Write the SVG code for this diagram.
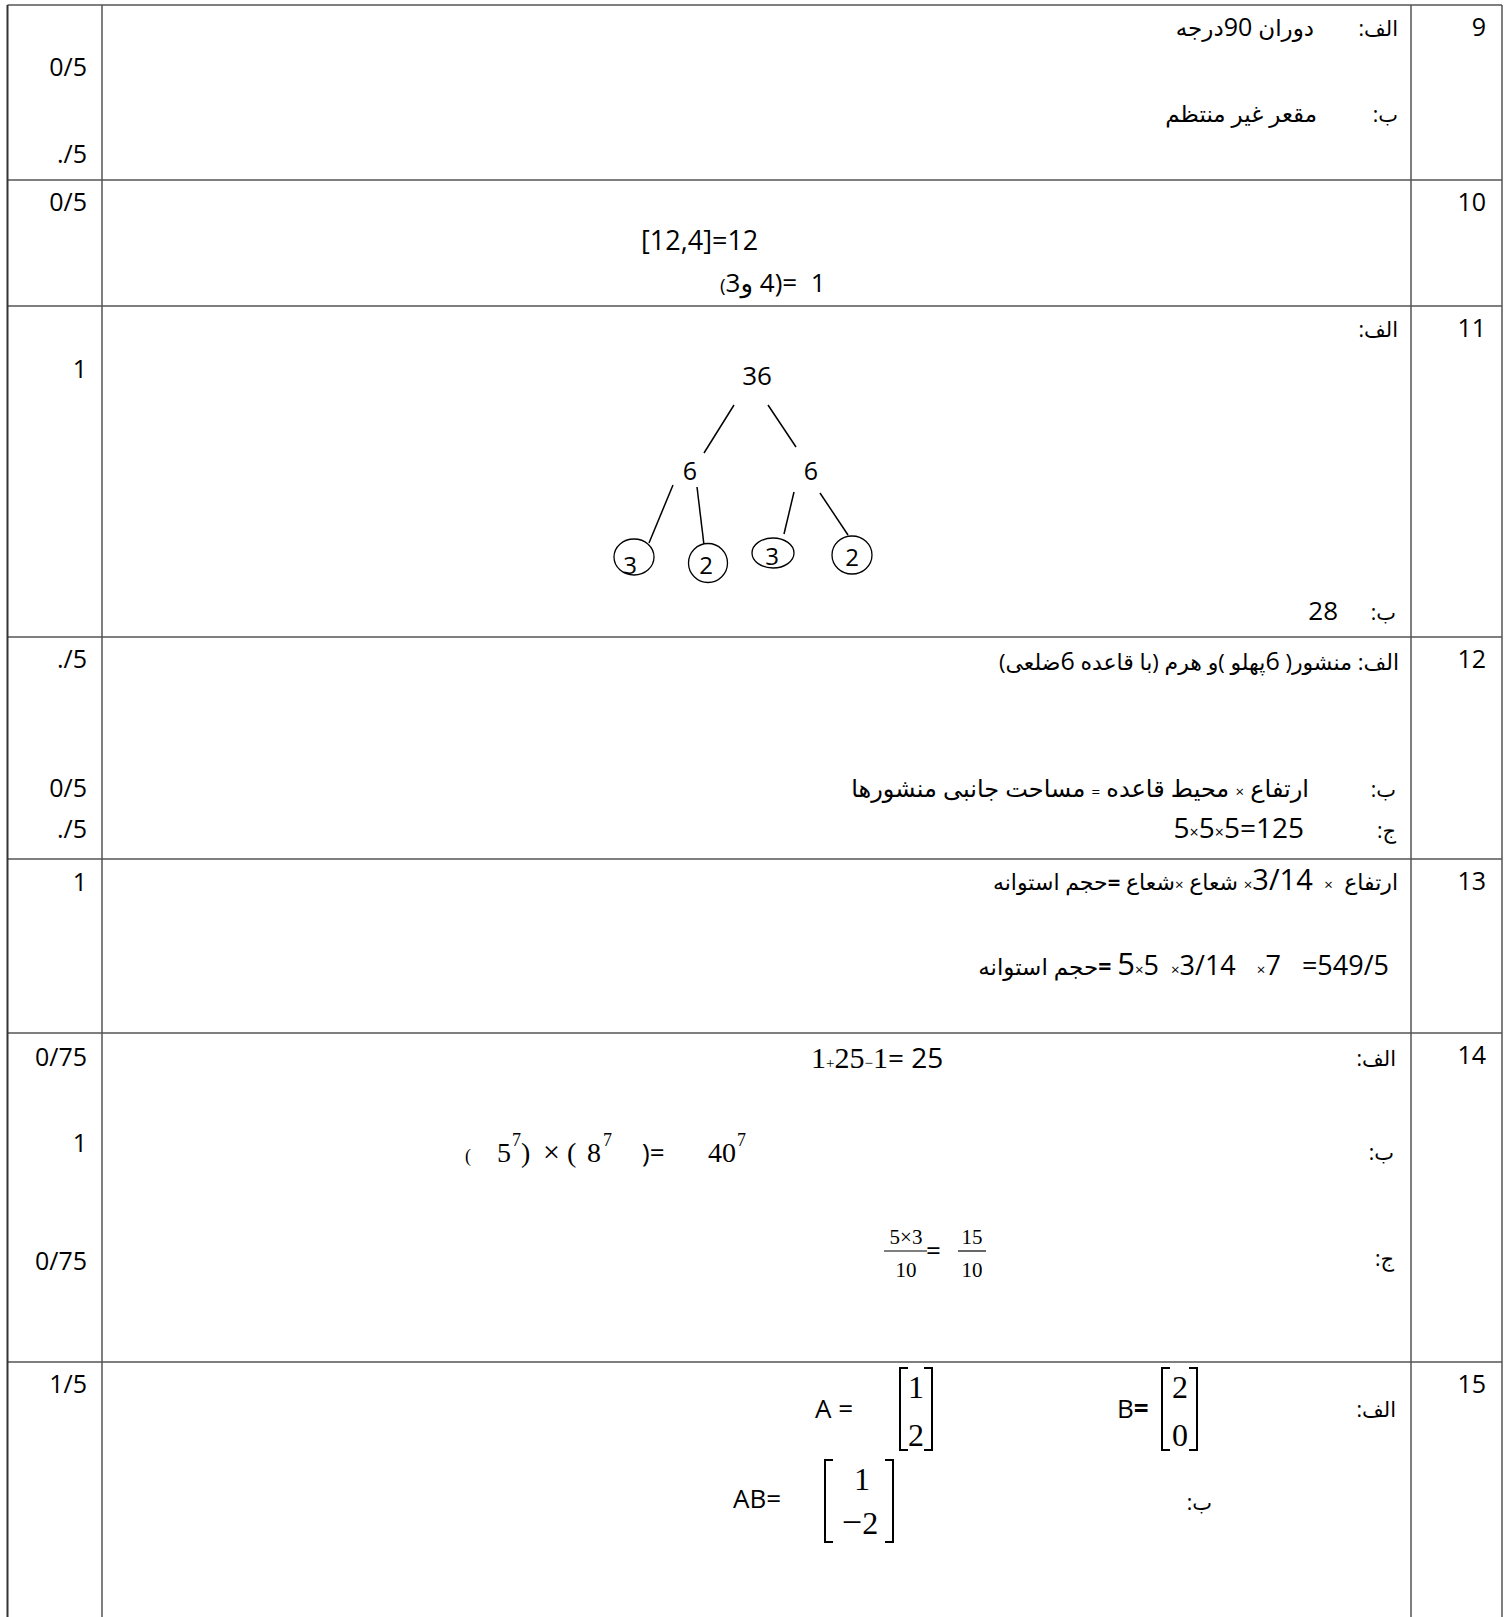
<svg xmlns="http://www.w3.org/2000/svg" width="1509" height="1617" viewBox="0 0 1509 1617">
<style>
text { font-family: "Open Sans", "DejaVu Sans", sans-serif; fill: #000; }
.num { font-size: 25px; text-anchor: end; }
.ar { font-size: 21px; }
.m { font-family: "Liberation Serif", "DejaVu Serif", serif; }
.grid { stroke: #555; stroke-width: 1.5; fill: none; }
.edge { stroke: #000; stroke-width: 1.5; fill: none; }
.node { fill: #fff; stroke: #000; stroke-width: 1.3; }
.br { stroke: #000; stroke-width: 2; fill: none; }
.sx { font-size: 15px; }
</style>
<rect width="1509" height="1617" fill="#fff"/>
<g id="grid">
  <line class="grid" x1="7.5" y1="5" x2="1502" y2="5"/>
  <line class="grid" x1="7.5" y1="180" x2="1502" y2="180"/>
  <line class="grid" x1="7.5" y1="306" x2="1502" y2="306"/>
  <line class="grid" x1="7.5" y1="637" x2="1502" y2="637"/>
  <line class="grid" x1="7.5" y1="859" x2="1502" y2="859"/>
  <line class="grid" x1="7.5" y1="1033" x2="1502" y2="1033"/>
  <line class="grid" x1="7.5" y1="1362" x2="1502" y2="1362"/>
  <line class="grid" x1="7.5" y1="5" x2="7.5" y2="1617" style="stroke:#333;stroke-width:2"/>
  <line class="grid" x1="102" y1="5" x2="102" y2="1617"/>
  <line class="grid" x1="1411" y1="5" x2="1411" y2="1617"/>
  <line class="grid" x1="1502" y1="5" x2="1502" y2="1617"/>
</g>
<g id="row-numbers">
  <text class="num" x="1486" y="36">9</text>
  <text class="num" x="1486" y="211">10</text>
  <text class="num" x="1486" y="337">11</text>
  <text class="num" x="1486" y="668">12</text>
  <text class="num" x="1486" y="890">13</text>
  <text class="num" x="1486" y="1064">14</text>
  <text class="num" x="1486" y="1393">15</text>
</g>
<g id="scores">
  <text class="num" x="87" y="76">0/5</text>
  <text class="num" x="87" y="163">./5</text>
  <text class="num" x="87" y="211">0/5</text>
  <text class="num" x="87" y="378">1</text>
  <text class="num" x="87" y="668">./5</text>
  <text class="num" x="87" y="797">0/5</text>
  <text class="num" x="87" y="838">./5</text>
  <text class="num" x="87" y="891">1</text>
  <text class="num" x="87" y="1066">0/75</text>
  <text class="num" x="87" y="1152">1</text>
  <text class="num" x="87" y="1270">0/75</text>
  <text class="num" x="87" y="1393">1/5</text>
</g>
<g id="row9">
  <text class="ar" x="1398" y="36" direction="rtl" text-anchor="start">الف:</text>
  <text class="ar" x="1314" y="36" style="font-size:23px" direction="rtl" text-anchor="start">دوران <tspan font-size="25">90</tspan>درجه</text>
  <text class="ar" x="1398" y="122" direction="rtl" text-anchor="start">ب:</text>
  <text class="ar" x="1317" y="122" style="font-size:23px" direction="rtl" text-anchor="start">مقعر غیر منتظم</text>
</g>
<g id="row10">
  <text x="641" y="250" font-size="27">[12,4]=12</text>
  <text x="720" y="292" font-size="26" direction="ltr" unicode-bidi="bidi-override" xml:space="preserve"><tspan font-size="19">(</tspan>3و 4)=  1</text>
</g>
<g id="row11">
  <text class="ar" x="1398" y="337" direction="rtl" text-anchor="start">الف:</text>
  <g id="connectors">
    <line class="edge" x1="734" y1="405" x2="704" y2="453"/>
    <line class="edge" x1="768" y1="405" x2="796" y2="447"/>
    <line class="edge" x1="673" y1="485" x2="649" y2="543"/>
    <line class="edge" x1="697" y1="487" x2="704" y2="545"/>
    <line class="edge" x1="794" y1="492" x2="784" y2="534"/>
    <line class="edge" x1="820" y1="493" x2="848" y2="535"/>
  </g>
  <g id="n36"><text x="757" y="385" font-size="26" text-anchor="middle">36</text></g>
  <g id="n6a"><text x="690" y="480" font-size="25" text-anchor="middle">6</text></g>
  <g id="n6b"><text x="811" y="480" font-size="25" text-anchor="middle">6</text></g>
  <g id="n3a"><ellipse class="node" cx="634" cy="557" rx="20" ry="18"/><text x="630" y="574" font-size="24" text-anchor="middle">3</text></g>
  <g id="n2a"><ellipse class="node" cx="708" cy="563" rx="19.5" ry="19.5"/><text x="706" y="574" font-size="24" text-anchor="middle">2</text></g>
  <g id="n3b"><ellipse class="node" cx="773" cy="553" rx="21" ry="15"/><text x="772" y="565" font-size="24" text-anchor="middle">3</text></g>
  <g id="n2b"><ellipse class="node" cx="852" cy="555" rx="20" ry="19"/><text x="852" y="566" font-size="24" text-anchor="middle">2</text></g>
  <text class="ar" x="1396" y="620" direction="rtl" text-anchor="start">ب:</text>
  <text x="1338" y="620" font-size="26" text-anchor="end">28</text>
</g>
<g id="row12">
  <text class="ar" x="1399" y="670" style="font-size:22px" direction="rtl" text-anchor="start">الف: منشور( <tspan font-size="25">6</tspan>پهلو )و هرم (با قاعده <tspan font-size="25">6</tspan>ضلعی)</text>
  <text class="ar" x="1396" y="797" direction="rtl" text-anchor="start">ب:</text>
  <text class="ar" x="1309" y="797" style="font-size:24px" direction="rtl" text-anchor="start">ارتفاع <tspan class="sx">×</tspan> محیط قاعده <tspan class="sx">=</tspan>  مساحت جانبی منشورها</text>
  <text class="ar" x="1396" y="838" direction="rtl" text-anchor="start">ج:</text>
  <text x="1304" y="838" font-size="28" text-anchor="end">5<tspan font-size="16">×</tspan>5<tspan font-size="16">×</tspan>5=125</text>
</g>
<g id="row13">
  <text class="ar" x="1398" y="890" style="font-size:22px" direction="rtl" text-anchor="start" xml:space="preserve">ارتفاع  <tspan class="sx">×</tspan>  <tspan font-size="29">3/14</tspan><tspan class="sx">×</tspan> شعاع <tspan class="sx">×</tspan>شعاع <tspan font-weight="bold">=</tspan>حجم استوانه</text>
  <text class="ar" x="1389" y="975" style="font-size:23px" direction="rtl" text-anchor="start" xml:space="preserve"><tspan font-size="27">549/5=   7</tspan><tspan class="sx">×</tspan><tspan font-size="27">   3/14</tspan><tspan class="sx">×</tspan>  <tspan font-size="27">5</tspan><tspan class="sx">×</tspan><tspan font-size="31">5</tspan> <tspan font-weight="bold">=</tspan>حجم استوانه</text>
</g>
<g id="row14">
  <text class="ar" x="1396" y="1066" direction="rtl" text-anchor="start">الف:</text>
  <text x="811" y="1068" font-size="28" xml:space="preserve"><tspan class="m" font-size="30">1</tspan><tspan class="m" font-size="15">+</tspan><tspan class="m" font-size="30">25</tspan><tspan class="m" font-size="15">−</tspan><tspan class="m" font-size="30">1</tspan>= 25</text>
  <text class="ar" x="1394" y="1160" direction="rtl" text-anchor="start">ب:</text>
  <g font-size="28">
    <text x="465" y="1162" class="m" font-size="18">(</text>
    <text x="497" y="1162" class="m">5</text>
    <text x="512" y="1146" class="m" font-size="18">7</text>
    <text x="521" y="1162" class="m">)</text>
    <text x="543" y="1162" class="m" font-size="30">×</text>
    <text x="567" y="1162" class="m">(</text>
    <text x="587" y="1162" class="m">8</text>
    <text x="603" y="1146" class="m" font-size="18">7</text>
    <text x="642" y="1162" font-size="26">)=</text>
    <text x="708" y="1162" class="m">40</text>
    <text x="737" y="1146" class="m" font-size="18">7</text>
  </g>
  <text class="ar" x="1394" y="1266" direction="rtl" text-anchor="start">ج:</text>
  <g id="frac" font-size="21">
    <text x="906" y="1244" class="m" text-anchor="middle">5×3</text>
    <line x1="884" y1="1251" x2="927" y2="1251" stroke="#000" stroke-width="1.2"/>
    <text x="906" y="1277" class="m" text-anchor="middle">10</text>
    <text x="926" y="1260" font-size="26">=</text>
    <text x="972" y="1244" class="m" text-anchor="middle">15</text>
    <line x1="958" y1="1251" x2="986" y2="1251" stroke="#000" stroke-width="1.2"/>
    <text x="972" y="1277" class="m" text-anchor="middle">10</text>
  </g>
</g>
<g id="row15">
  <text class="ar" x="1396" y="1417" direction="rtl" text-anchor="start">الف:</text>
  <text x="815" y="1418" font-size="26">A =</text>
  <path class="br" d="M908 1368 H900 V1450 H908 M924 1368 H932 V1450 H924"/>
  <text x="916" y="1398" class="m" font-size="32" text-anchor="middle">1</text>
  <text x="916" y="1446" class="m" font-size="32" text-anchor="middle">2</text>
  <text x="1117" y="1418" font-size="26">B<tspan font-weight="bold">=</tspan></text>
  <path class="br" d="M1170 1368 H1162 V1450 H1170 M1189 1368 H1197 V1450 H1189"/>
  <text x="1180" y="1398" class="m" font-size="32" text-anchor="middle">2</text>
  <text x="1180" y="1446" class="m" font-size="32" text-anchor="middle">0</text>
  <text x="733" y="1508" font-size="26">AB=</text>
  <path class="br" d="M833 1460 H825 V1542 H833 M885 1460 H893 V1542 H885"/>
  <text x="862" y="1490" class="m" font-size="32" text-anchor="middle">1</text>
  <text x="860" y="1534" class="m" font-size="32" text-anchor="middle"><tspan font-size="36">−</tspan>2</text>
  <text class="ar" x="1212" y="1510" direction="rtl" text-anchor="start">ب:</text>
</g>
</svg>
